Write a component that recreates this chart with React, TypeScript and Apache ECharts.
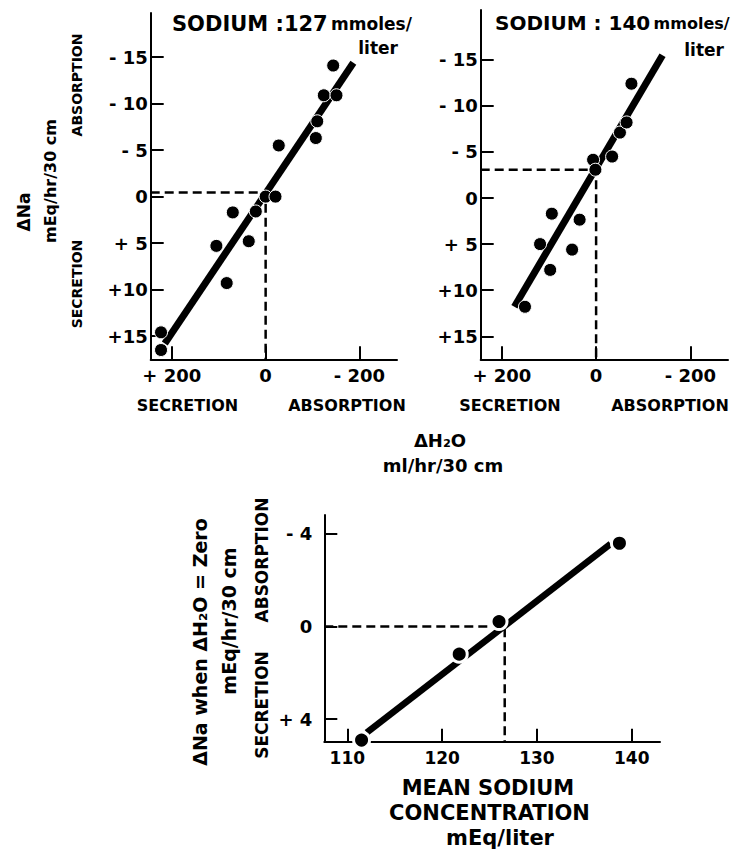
import React, { useEffect, useRef } from "react";
import * as echarts from "echarts";

const FONT = "DejaVu Sans";

// Top panels: ΔH2O (x) vs ΔNa (y)
const xTicksTop = [200, 0, -200];
const xTickLabelsTop = ["+ 200", "0", "- 200"];
const yTicksTop = [-15, -10, -5, 0, 5, 10, 15];
const yTickLabelsTop = ["- 15", "- 10", "- 5", "0", "+ 5", "+10", "+15"];

// Sodium 127 mmoles/liter
const na127Water = [223, 223, 105, 83, 70, 36, 21, 0, -21, -28, -107, -110, -124, -151, -144];
const na127Sodium = [16.5, 14.6, 5.3, 9.3, 1.7, 4.8, 1.6, 0, 0, -5.5, -6.3, -8.1, -10.9, -10.9, -14.1];
const na127FitWater = [215, -187];
const na127FitSodium = [15.8, -14.4];
const na127Intercept = -0.43;

// Sodium 140 mmoles/liter
const na140Water = [151, 119, 97.5, 94, 51, 35, 6.4, 1.5, -34, -50.6, -64.7, -75];
const na140Sodium = [11.8, 5.0, 7.8, 1.7, 5.6, 2.35, -4.15, -3.07, -4.5, -7.1, -8.2, -12.4];
const na140FitWater = [173.5, -141];
const na140FitSodium = [11.8, -15.5];
const na140Intercept = -3.07;

// Bottom panel: mean sodium concentration vs ΔNa when ΔH2O = 0
const meanSodium = [111.5, 121.8, 126.0, 138.7];
const naAtZeroWater = [4.9, 1.19, -0.22, -3.6];
const bottomFitSodium = [112.04, 137.77];
const bottomFitNa = [4.58, -3.57];
const bottomZeroX = 126.6;
const xTicksBottom = [110, 120, 130, 140];
const yTicksBottom = [-4, 0, 4];
const yTickLabelsBottom = ["- 4", "0", "+ 4"];

const zip = (a: number[], b: number[]) => a.map((v, i) => [v, b[i]]);

function axis(
  gridIndex: number,
  min: number,
  max: number,
  ticks: number[],
  labels: string[],
  inverse: boolean,
  margin: number,
  fontSize: number
) {
  return {
    type: "value",
    gridIndex,
    min,
    max,
    inverse,
    splitLine: { show: false },
    axisLine: { show: true, onZero: false, lineStyle: { color: "#000", width: 2 } },
    axisTick: {
      show: true,
      inside: true,
      length: 13,
      customValues: ticks,
      lineStyle: { color: "#000", width: 2 },
    },
    axisLabel: {
      show: true,
      customValues: ticks,
      margin,
      color: "#000",
      fontFamily: FONT,
      fontWeight: "bold",
      fontSize,
      formatter: (v: number) => {
        const i = ticks.indexOf(v);
        return i >= 0 ? labels[i] : "";
      },
    },
  };
}

function txt(
  text: string,
  x: number,
  y: number,
  fontSize: number,
  rotate = false,
  align: string = "center"
) {
  return {
    type: "text",
    x,
    y,
    rotation: rotate ? Math.PI / 2 : 0,
    style: {
      text,
      fill: "#000",
      font: `bold ${fontSize}px "${FONT}"`,
      align,
      verticalAlign: "middle",
    },
  };
}

function title(x: number, y: number, main: string, mainSize: number, unitSize: number) {
  return {
    type: "text",
    x,
    y,
    style: {
      text: `{a|${main}} {b|mmoles/}`,
      fill: "#000",
      verticalAlign: "middle",
      rich: {
        a: { fontFamily: FONT, fontWeight: "bold", fontSize: mainSize, fill: "#000" },
        b: { fontFamily: FONT, fontWeight: "bold", fontSize: unitSize, fill: "#000" },
      },
    },
  };
}

export default function App() {
  const ref = useRef<HTMLDivElement>(null);

  useEffect(() => {
    if (!ref.current) return;
    const chart = echarts.init(ref.current, undefined, { renderer: "svg" });

    const fitLine = (xi: number, data: number[][], width: number) => ({
      type: "line",
      xAxisIndex: xi,
      yAxisIndex: xi,
      data,
      symbol: "none",
      z: 2,
      lineStyle: { color: "#000", width, cap: "butt" },
    });
    const dashLine = (xi: number, data: number[][]) => ({
      type: "line",
      xAxisIndex: xi,
      yAxisIndex: xi,
      data,
      symbol: "none",
      z: 1,
      lineStyle: { color: "#000", width: 2.5, type: [9, 5] },
    });
    const dots = (xi: number, data: number[][], size: number, border: number) => ({
      type: "scatter",
      xAxisIndex: xi,
      yAxisIndex: xi,
      data,
      symbolSize: size,
      z: 3,
      itemStyle: { color: "#000", borderColor: "#fff", borderWidth: border, opacity: 1 },
    });

    const topXMax = 245;
    const topXMin = -280;
    const leftYMin = -19.75;
    const rightYMin = -20.4;
    const topYMax = 17.5;

    chart.setOption({
      animation: false,
      backgroundColor: "#fff",
      grid: [
        { left: 150.7, top: 13, width: 246.3, height: 346.3 },
        { left: 480.7, top: 10, width: 247.3, height: 349.3 },
        { left: 324.3, top: 515, width: 335.7, height: 226.7 },
      ],
      xAxis: [
        axis(0, topXMin, topXMax, xTicksTop, xTickLabelsTop, true, 7, 18),
        axis(1, topXMin, topXMax, xTicksTop, xTickLabelsTop, true, 7, 18),
        axis(2, 107.57, 142.98, xTicksBottom, xTicksBottom.map(String), false, 8, 17),
      ],
      yAxis: [
        axis(0, leftYMin, topYMax, yTicksTop, yTickLabelsTop, true, 3, 18),
        axis(1, rightYMin, topYMax, yTicksTop, yTickLabelsTop, true, 3, 18),
        axis(2, -4.82, 4.97, yTicksBottom, yTickLabelsBottom, true, 12, 18),
      ],
      series: [
        dashLine(0, [
          [topXMax, na127Intercept],
          [0, na127Intercept],
          [0, topYMax],
        ]),
        fitLine(0, zip(na127FitWater, na127FitSodium), 7),
        dots(0, zip(na127Water, na127Sodium), 13, 1),
        dashLine(1, [
          [topXMax, na140Intercept],
          [0, na140Intercept],
          [0, topYMax],
        ]),
        fitLine(1, zip(na140FitWater, na140FitSodium), 7),
        dots(1, zip(na140Water, na140Sodium), 13, 1),
        dashLine(2, [
          [107.57, 0],
          [bottomZeroX, 0],
          [bottomZeroX, 4.97],
        ]),
        fitLine(2, zip(bottomFitSodium, bottomFitNa), 6.5),
        dots(2, zip(meanSodium, naAtZeroWater), 16, 3),
      ],
      graphic: [
        title(172, 24, "SODIUM :127", 21, 17),
        txt("liter", 398, 48, 17, false, "right"),
        title(495, 23, "SODIUM : 140", 20, 16),
        txt("liter", 724, 50, 17, false, "right"),
        // Top-left y titles
        txt("ΔNa", 24, 212, 17, true),
        txt("mEq/hr/30 cm", 50, 181, 16, true),
        txt("ABSORPTION", 77, 85, 14, true),
        txt("SECRETION", 77, 284, 14, true),
        // Top x sub-labels
        txt("SECRETION", 187.5, 405, 16),
        txt("ABSORPTION", 347, 405, 16),
        txt("SECRETION", 510, 405, 16),
        txt("ABSORPTION", 670, 405, 16),
        txt("ΔH₂O", 440, 440, 18),
        txt("ml/hr/30 cm", 443, 465, 18),
        // Bottom y titles
        txt("ΔNa when ΔH₂O = Zero", 200, 642, 19, true),
        txt("mEq/hr/30 cm", 229, 621, 19, true),
        txt("ABSORPTION", 262, 560, 17, true),
        txt("SECRETION", 262, 705, 17, true),
        // Bottom x title
        txt("MEAN SODIUM", 488, 788, 21),
        txt("CONCENTRATION", 489.5, 813, 21),
        txt("mEq/liter", 500, 838, 21),
      ],
    });

    return () => chart.dispose();
  }, []);

  return (
    <div
      ref={ref}
      style={{ position: "absolute", left: 0, top: 0, width: 740, height: 849, background: "#fff" }}
    />
  );
}
